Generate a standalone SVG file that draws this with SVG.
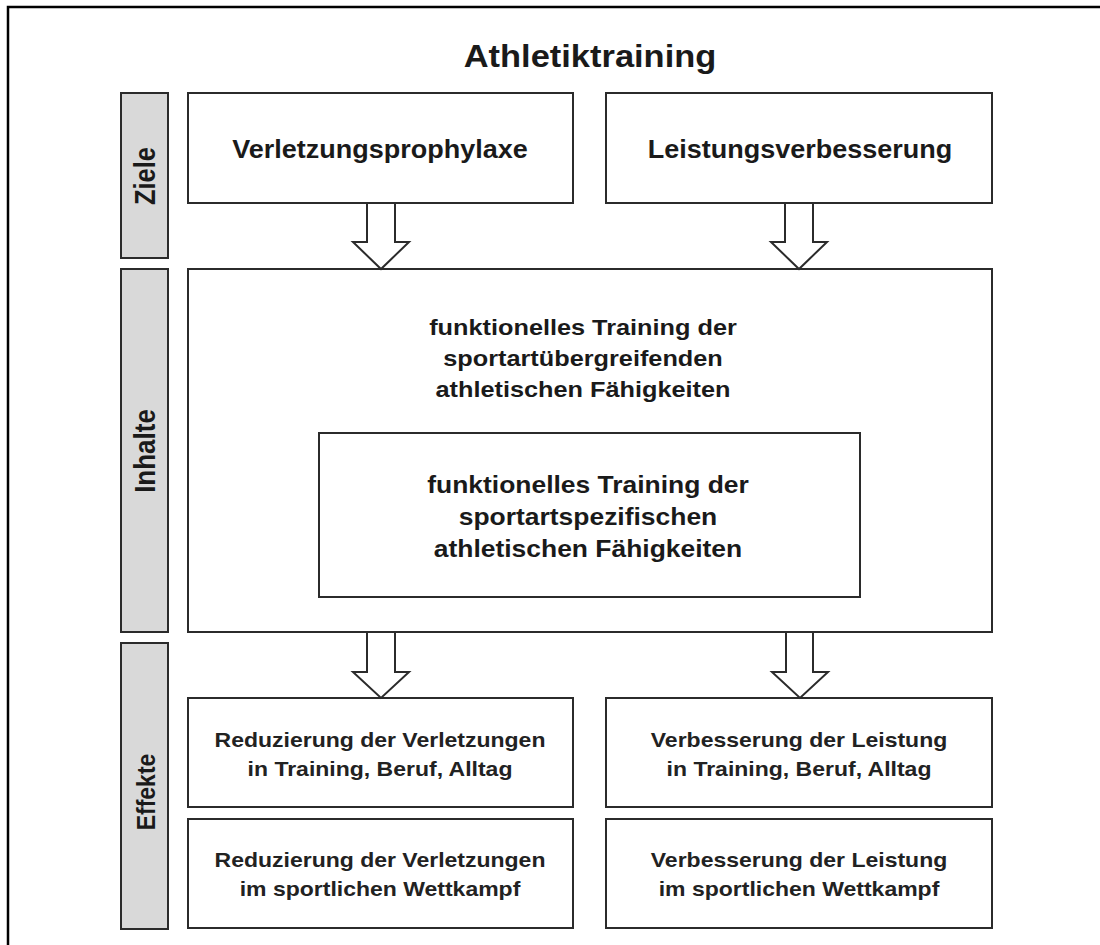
<svg xmlns="http://www.w3.org/2000/svg" width="1100" height="945" viewBox="0 0 1100 945">
<style>
.box{fill:#ffffff;stroke:#2b2b2b;stroke-width:2}
.bar{fill:#d9d9d9;stroke:#2b2b2b;stroke-width:2}
.arrow{fill:#ffffff;stroke:#2b2b2b;stroke-width:2;stroke-linejoin:miter}
text{font-family:"Liberation Sans",Arial,sans-serif;font-weight:bold;fill:#1a1a1a;text-anchor:middle}
.title{font-size:30.5px}
.lbl{font-size:25px}
.side{font-size:25px}
.c1{font-size:22px}
.c2{font-size:23px}
.eff{font-size:20px;fill:#222}
</style>
<rect x="0" y="0" width="1100" height="945" fill="#ffffff"/>
<path d="M8,945 V7 H1100" fill="none" stroke="#000" stroke-width="2.5"/>

<g id="title"><text class="title" transform="translate(590,67) scale(1.13,1)">Athletiktraining</text></g>

<g id="bar-ziele"><rect class="bar" x="121" y="93" width="47" height="165"/>
<text class="side" style="font-size:25.5px" transform="translate(155,176) scale(1.15,1) rotate(-90)">Ziele</text></g>
<g id="bar-inhalte"><rect class="bar" x="121" y="269" width="47" height="363"/>
<text class="side" style="font-size:26px" transform="translate(155,451) scale(1.15,1) rotate(-90)">Inhalte</text></g>
<g id="bar-effekte"><rect class="bar" x="121" y="643" width="47" height="286"/>
<text class="side" style="font-size:23px" transform="translate(155,792) scale(1.15,1) rotate(-90)">Effekte</text></g>

<g id="ziel-verletzung"><rect class="box" x="188" y="93" width="385" height="110"/>
<text class="lbl" transform="translate(380,158) scale(1.08,1)">Verletzungsprophylaxe</text></g>
<g id="ziel-leistung"><rect class="box" x="606" y="93" width="386" height="110"/>
<text class="lbl" transform="translate(800,158) scale(1.08,1)">Leistungsverbesserung</text></g>

<g id="inhalte-allgemein"><rect class="box" x="188" y="269" width="804" height="363"/>
<text class="c1" transform="translate(583,335) scale(1.15,1)">funktionelles Training der</text>
<text class="c1" transform="translate(583,366) scale(1.15,1)">sportartübergreifenden</text>
<text class="c1" transform="translate(583,397) scale(1.15,1)">athletischen Fähigkeiten</text></g>
<g id="inhalte-spezifisch"><rect class="box" x="319" y="433" width="541" height="164"/>
<text class="c2" transform="translate(588,493) scale(1.15,1)">funktionelles Training der</text>
<text class="c2" transform="translate(588,525) scale(1.15,1)">sportartspezifischen</text>
<text class="c2" transform="translate(588,557) scale(1.15,1)">athletischen Fähigkeiten</text></g>

<g id="effekt-verletzung-alltag"><rect class="box" x="188" y="698" width="385" height="109"/>
<text class="eff" transform="translate(380,747) scale(1.15,1)">Reduzierung der Verletzungen</text>
<text class="eff" transform="translate(380,776) scale(1.15,1)">in Training, Beruf, Alltag</text></g>
<g id="effekt-leistung-alltag"><rect class="box" x="606" y="698" width="386" height="109"/>
<text class="eff" transform="translate(799,747) scale(1.15,1)">Verbesserung der Leistung</text>
<text class="eff" transform="translate(799,776) scale(1.15,1)">in Training, Beruf, Alltag</text></g>
<g id="effekt-verletzung-wettkampf"><rect class="box" x="188" y="819" width="385" height="109"/>
<text class="eff" transform="translate(380,867) scale(1.15,1)">Reduzierung der Verletzungen</text>
<text class="eff" transform="translate(380,896) scale(1.15,1)">im sportlichen Wettkampf</text></g>
<g id="effekt-leistung-wettkampf"><rect class="box" x="606" y="819" width="386" height="109"/>
<text class="eff" transform="translate(799,867) scale(1.15,1)">Verbesserung der Leistung</text>
<text class="eff" transform="translate(799,896) scale(1.15,1)">im sportlichen Wettkampf</text></g>

<g id="connectors">
<polygon class="arrow" points="367,203 395,203 395,242 409,242 381,269 353,242 367,242"/>
<polygon class="arrow" points="785,203 813,203 813,242 827,242 799,269 771,242 785,242"/>
<polygon class="arrow" points="367,632 395,632 395,672 409,672 381,698 353,672 367,672"/>
<polygon class="arrow" points="786,632 813,632 813,672 828,672 800,698 772,672 786,672"/>
</g>
</svg>
